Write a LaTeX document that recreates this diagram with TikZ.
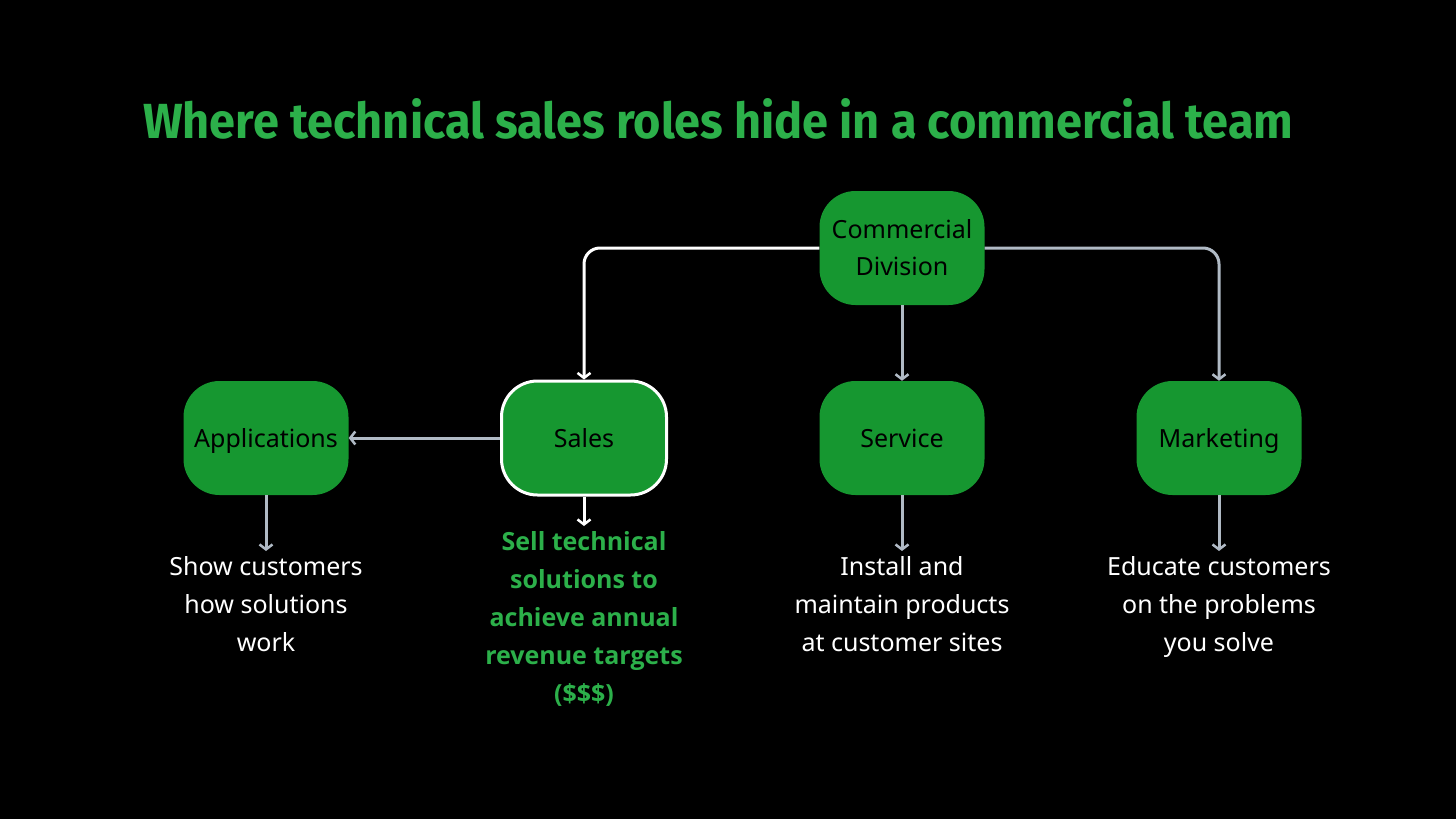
\documentclass[tikz,border=0pt]{standalone}
\usepackage{fontspec}
\setmainfont{Noto Sans}
\newfontfamily\titlefont{Fira Sans}
\newfontfamily\salesfont{Open Sans}
\usepackage{graphicx}
\usetikzlibrary{arrows.meta,positioning}
\definecolor{boxgreen}{RGB}{22,151,48}
\definecolor{titlegreen}{RGB}{44,176,74}
\definecolor{linegray}{RGB}{176,186,197}
\tikzset{
  rolebox/.style={draw=none, fill=boxgreen, rounded corners=36pt, minimum width=165pt, minimum height=114pt,
    align=center, inner sep=0pt, text=black, font={\fontsize{25}{37}\selectfont}},
  onelinebox/.style={rolebox, text height=20pt, text depth=2pt},
  desc/.style={anchor=north, align=center, inner xsep=0pt, inner ysep=5pt, text=white,
    font={\fontsize{25}{38}\selectfont}},
  conn/.style={line width=3pt, -{Straight Barb[length=5pt,width=13pt,line width=2.5pt]}},
  grayconn/.style={conn, draw=linegray},
  whiteconn/.style={conn, draw=white},
}
\begin{document}
\begin{tikzpicture}[x=1pt,y=-1pt]
\fill[black] (0,0) rectangle (1456,819);
\useasboundingbox (0,0) rectangle (1456,819);

\node[anchor=base west, inner sep=0pt, text=titlegreen] (title) at (143,138)
  {\resizebox{1150pt}{40pt}{\titlefont\bfseries Where technical sales roles hide in a commercial team}};

\node[rolebox] (cd) at (902,248) {Commercial\\Division};
\node[onelinebox] (app) at (266,438) {Applications};
\node[onelinebox, draw=white, line width=3pt] (sales) at (584,438) {Sales};
\node[onelinebox] (service) at (902,438) {Service};
\node[onelinebox] (mkt) at (1219,438) {Marketing};

\node[desc] (apptext) at (266,551) {Show customers\\how solutions\\work};
\node[desc, text=titlegreen, font={\fontsize{25}{38}\selectfont\salesfont\bfseries}] (salestext) at (584,526)
  {Sell technical\\solutions to\\achieve annual\\revenue targets\\(\$\$\$)};
\node[desc] (servicetext) at (902,551) {Install and\\maintain products\\at customer sites};
\node[desc] (mkttext) at (1219,551) {Educate customers\\on the problems\\you solve};

\draw[whiteconn, rounded corners=16pt] (cd.west) -| (sales.north);
\draw[grayconn, rounded corners=16pt] (cd.east) -| (mkt.north);
\draw[grayconn] (cd.south) -- (service.north);
\draw[grayconn] (sales.west) -- (app.east);
\draw[grayconn] (app.south) -- (apptext.north);
\draw[whiteconn] (sales.south) -- (salestext.north);
\draw[grayconn] (service.south) -- (servicetext.north);
\draw[grayconn] (mkt.south) -- (mkttext.north);
\end{tikzpicture}
\end{document}
